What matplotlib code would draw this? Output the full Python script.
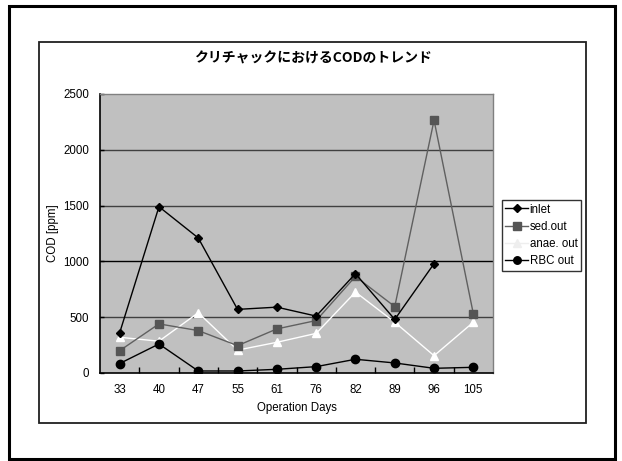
import matplotlib
matplotlib.use("Agg")
import matplotlib.pyplot as plt
from matplotlib.patches import Rectangle
import numpy as np

days = ["33", "40", "47", "55", "61", "76", "82", "89", "96", "105"]
inlet = [360, 1490, 1210, 570, 590, 510, 890, 480, 980, np.nan]
sed_out = [200, 440, 380, 245, 395, 470, 865, 595, 2265, 530]
anae_out = [320, 285, 540, 205, 275, 355, 725, 455, 155, 455]
rbc_out = [85, 260, 18, 18, 33, 57, 123, 90, 42, 51]
yticks = [0, 500, 1000, 1500, 2000, 2500]

title = "クリチャックにおけるCODのトレンド"
xlabel = "Operation Days"
ylabel = "COD [ppm]"

plt.rcParams['font.family'] = ['Liberation Sans', 'Noto Sans CJK JP', 'DejaVu Sans']
FS = 8.3

fig = plt.figure(figsize=(6.22, 4.61), dpi=100)
fig.patch.set_facecolor('white')

# outer frame
fig.add_artist(Rectangle((0.0145, 0.0043), 0.975, 0.9826, transform=fig.transFigure,
                         fill=False, edgecolor='black', linewidth=2.2))
# inner chart frame
fig.add_artist(Rectangle((0.0627, 0.0824), 0.8794, 0.8275, transform=fig.transFigure,
                         fill=False, edgecolor='#202020', linewidth=1.3))

ax = fig.add_axes([0.1608, 0.1909, 0.6318, 0.6052])
ax.set_facecolor('#C0C0C0')
x = np.arange(len(days))

ax.set_ylim(0, 2500)
ax.set_xlim(-0.5, len(days) - 0.5)
ax.set_yticks(yticks)
ax.set_yticklabels([str(v) for v in yticks])
ax.set_xticks(x)
ax.set_xticklabels(days)
ax.set_xticks(x[:-1] + 0.5, minor=True)

for v in yticks[1:-1]:
    ax.axhline(v, color='black' if v == 1000 else '#404040', linewidth=1.0, zorder=1)

ax.plot(x, inlet, color='black', linewidth=1.0, marker='D', markersize=4,
        markerfacecolor='black', markeredgecolor='black', label='inlet', zorder=5)
ax.plot(x, sed_out, color='#606060', linewidth=1.0, marker='s', markersize=6,
        markerfacecolor='#555555', markeredgecolor='#555555', label='sed.out', zorder=4)
ax.plot(x, anae_out, color='white', linewidth=1.0, marker='^', markersize=6,
        markerfacecolor='white', markeredgecolor='white', label='anae. out', zorder=3)
ax.plot(x, rbc_out, color='black', linewidth=1.0, marker='o', markersize=6,
        markerfacecolor='black', markeredgecolor='black', label='RBC out', zorder=6)

for s in ['top', 'right']:
    ax.spines[s].set_color('#808080')
    ax.spines[s].set_linewidth(1.0)
for s in ['left', 'bottom']:
    ax.spines[s].set_color('black')
    ax.spines[s].set_linewidth(1.2)

ax.tick_params(axis='x', which='major', length=0, pad=8, labelsize=FS)
ax.tick_params(axis='x', which='minor', direction='in', length=4, width=1, color='black')
ax.tick_params(axis='y', which='major', direction='in', length=3, width=1, pad=8, labelsize=FS)

ax.set_xlabel(xlabel, fontsize=FS, labelpad=4)
ax.set_ylabel(ylabel, fontsize=FS, labelpad=3)

fig.text(0.503, 0.874, title, ha='center', va='center', fontsize=10, fontweight='bold',
         family=['Noto Sans CJK JP', 'DejaVu Sans'])

leg = ax.legend(loc='upper left', bbox_to_anchor=(0.807, 0.566),
                bbox_transform=fig.transFigure, fontsize=FS, frameon=True,
                fancybox=False, edgecolor='black', handlelength=2.0, handletextpad=0.1,
                labelspacing=0.45, borderpad=0.3, borderaxespad=0, markerscale=0.9)
leg.get_frame().set_linewidth(1.0)
leg.legend_handles[2].set_color('#EEEEEE')
leg.legend_handles[2].set_markerfacecolor('#EEEEEE')
leg.legend_handles[2].set_markeredgecolor('#EEEEEE')

fig.savefig('out.png', dpi=100)
